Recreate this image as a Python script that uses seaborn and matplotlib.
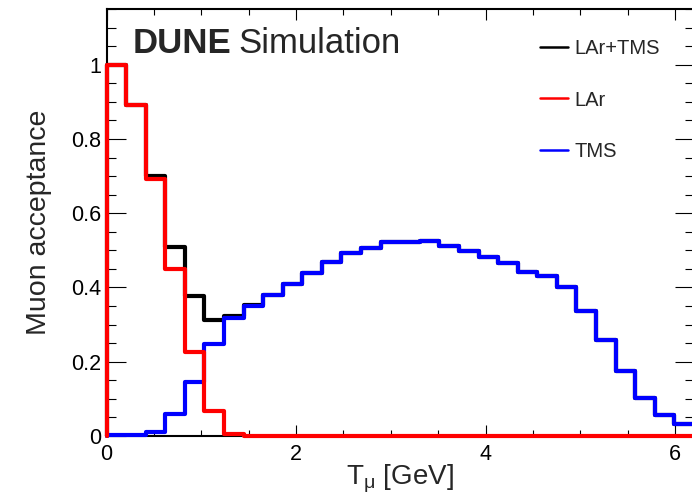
import matplotlib
matplotlib.use("Agg")
import matplotlib.pyplot as plt
from matplotlib.lines import Line2D
from matplotlib.ticker import MultipleLocator, FuncFormatter
import seaborn as sns
import numpy as np

# 30 bins of muon kinetic energy between 0 and 6.2 GeV
n_bins = 30
t_range = (0, 6.2)
bin_edges = np.linspace(t_range[0], t_range[1], n_bins + 1)
bin_centers = 0.5 * (bin_edges[:-1] + bin_edges[1:])

lar_tms = [1.0, 0.892, 0.700, 0.509, 0.377, 0.313, 0.323, 0.354, 0.381, 0.410,
           0.439, 0.468, 0.492, 0.506, 0.522, 0.522, 0.524, 0.512, 0.497, 0.481,
           0.465, 0.441, 0.431, 0.400, 0.337, 0.259, 0.175, 0.102, 0.057, 0.031]
lar = [1.0, 0.892, 0.692, 0.449, 0.227, 0.067, 0.005, 0.0, 0.0, 0.0,
       0.0, 0.0, 0.0, 0.0, 0.0, 0.0, 0.0, 0.0, 0.0, 0.0,
       0.0, 0.0, 0.0, 0.0, 0.0, 0.0, 0.0, 0.0, 0.0, 0.0]
tms = [0.002, 0.002, 0.010, 0.059, 0.146, 0.247, 0.317, 0.350, 0.379, 0.410,
       0.439, 0.468, 0.492, 0.506, 0.522, 0.522, 0.524, 0.512, 0.497, 0.481,
       0.465, 0.441, 0.431, 0.400, 0.337, 0.259, 0.175, 0.102, 0.057, 0.031]

series = [("LAr+TMS", lar_tms, "black"),
          ("TMS", tms, "blue"),
          ("LAr", lar, "red")]
legend_order = ["LAr+TMS", "LAr", "TMS"]

sns.set_style("ticks")
plt.rcParams["font.family"] = ["Liberation Sans", "DejaVu Sans"]
plt.rcParams["mathtext.fontset"] = "custom"
plt.rcParams["mathtext.rm"] = "Liberation Sans"
plt.rcParams["mathtext.it"] = "Liberation Sans"

fig = plt.figure(figsize=(6.92, 4.97), dpi=100)
ax = fig.add_axes([106.5 / 692, 61 / 497, 587.5 / 692, 427 / 497])

for name, vals, col in series:
    sns.histplot(x=bin_centers, weights=vals, bins=n_bins, binrange=t_range,
                 element="step", fill=False, color=col, linewidth=3, ax=ax)
    line = ax.lines[-1]
    x, y = line.get_data()
    # ROOT-style outline starts from zero at the first edge
    line.set_data(np.r_[x[0], x], np.r_[0, y])
    line.set_clip_on(False)
    line.set_zorder(3)

ax.set_xlim(*t_range)
ax.set_ylim(0, 1.15)

ax.xaxis.set_major_locator(MultipleLocator(2))
ax.xaxis.set_minor_locator(MultipleLocator(0.5))
ax.yaxis.set_major_locator(MultipleLocator(0.2))
ax.yaxis.set_minor_locator(MultipleLocator(0.05))
fmt = FuncFormatter(lambda v, p: "%g" % round(v, 2))
ax.xaxis.set_major_formatter(fmt)
ax.yaxis.set_major_formatter(fmt)

ax.tick_params(which="both", direction="in", top=True, right=True,
               width=0.8, colors="black", labelsize=15.5)
ax.tick_params(axis="x", which="major", length=8, pad=6)
ax.tick_params(axis="x", which="minor", length=4)
ax.tick_params(axis="y", which="major", length=13.5, pad=4)
ax.tick_params(axis="y", which="minor", length=6.5)
for s in ax.spines.values():
    s.set_linewidth(1.5)
    s.set_color("black")

ax.set_xlabel(r"T$_{\mu}$ [GeV]", fontsize=20)
ax.set_ylabel("Muon acceptance", fontsize=20.5)
ax.xaxis.set_label_coords(0.5, -0.062)
ax.yaxis.set_label_coords(-0.093, 0.5)

ax.text(0.045, 0.898, "DUNE", transform=ax.transAxes, fontsize=25,
        fontweight="bold", va="baseline", ha="left")
ax.text(0.224, 0.898, "Simulation", transform=ax.transAxes, fontsize=25,
        va="baseline", ha="left")

colors = {name: col for name, _, col in series}
handles = [Line2D([], [], color=colors[n], linewidth=1.8) for n in legend_order]
ax.legend(handles, legend_order, loc="upper left", bbox_to_anchor=(0.738, 0.93),
          frameon=False, fontsize=14.5, handlelength=1.4, handletextpad=0.3,
          labelspacing=1.62, borderpad=0, borderaxespad=0)

fig.savefig("out.png", dpi=100)
